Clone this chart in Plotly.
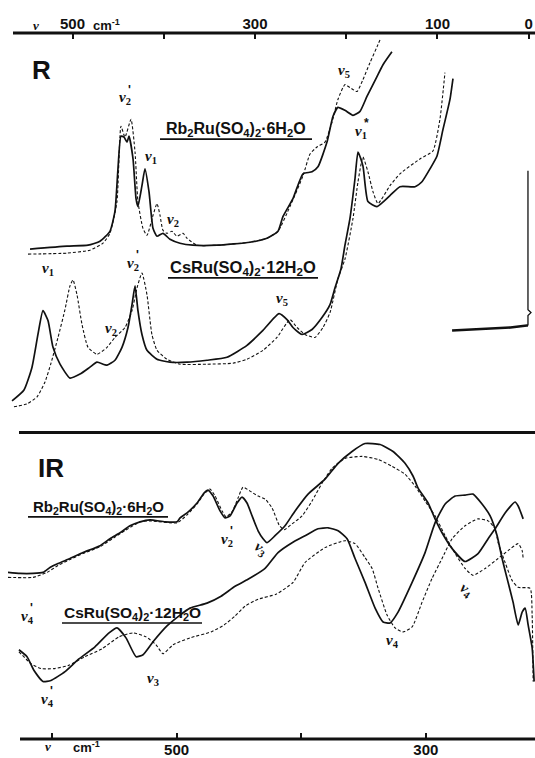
import plotly.graph_objects as go

# ---------------- Raman (R) spectra: wavenumber (cm-1) / relative intensity ----------------
raman_rb_solid_wn = [546.6, 506.1, 483.0, 469.9, 459.0, 453.5, 450.2, 446.9, 443.6, 440.3, 438.1, 433.7,
                     430.4, 428.3, 423.9, 420.6, 416.2, 411.8, 407.4, 400.9, 393.2, 382.2, 368.0, 341.7,
                     305.5, 286.9, 274.8, 269.3, 258.4, 247.4, 237.5, 231.0, 221.1, 214.5, 209.1, 201.4,
                     192.6, 184.9, 177.3, 166.3, 159.7, 149.9]
raman_rb_solid_i = [185, 188, 189, 193, 203, 223, 266, 299, 298, 293, 299, 276,
                    236, 228, 249, 266, 243, 206, 198, 201, 195, 191, 189, 189,
                    192, 196, 203, 218, 236, 261, 263, 268, 293, 319, 328, 325,
                    320, 324, 339, 359, 371, 384]

raman_rb_dash_wn = [548.8, 506.1, 480.9, 466.6, 459.0, 451.3, 446.9, 442.5, 435.9, 431.5, 428.3, 422.8,
                    418.4, 411.8, 407.4, 404.1, 400.9, 396.5, 391.0, 385.5, 378.9, 374.5, 363.6, 341.7,
                    305.5, 286.9, 274.8, 261.7, 247.4, 239.7, 232.1, 223.3, 215.6, 209.1, 201.4, 195.9,
                    188.2, 181.7, 174.0, 166.3, 163.0]
raman_rb_dash_i = [180, 181, 184, 191, 201, 233, 309, 298, 316, 283, 233, 206,
                   199, 219, 231, 219, 204, 201, 203, 198, 201, 196, 189, 189,
                   192, 196, 203, 228, 259, 281, 288, 293, 313, 336, 351, 348,
                   344, 356, 373, 389, 396]

raman_cs_solid_wn = [566.3, 553.2, 544.4, 537.9, 532.4, 526.9, 521.4, 513.7, 502.8, 491.8, 480.9, 473.2,
                     462.2, 453.5, 445.8, 439.2, 434.8, 431.5, 428.3, 423.9, 418.4, 407.4, 393.2, 374.5,
                     352.6, 330.7, 308.8, 291.3, 273.7, 264.9, 258.4, 248.5, 237.5, 226.6, 217.8, 212.3,
                     205.8, 201.4, 195.9, 190.4, 187.1, 181.7, 176.2, 166.3, 152.1, 141.1, 124.6, 117.0,
                     108.2, 100.5, 93.9, 86.3, 83.0]
raman_cs_solid_i = [32, 43, 66, 99, 123, 113, 86, 69, 55, 59, 66, 71,
                    68, 73, 86, 106, 129, 148, 123, 99, 83, 74, 71, 71,
                    73, 76, 88, 103, 120, 114, 106, 99, 104, 116, 129, 146,
                    165, 189, 216, 256, 283, 269, 233, 228, 239, 248, 248, 253,
                    266, 279, 306, 336, 357]

raman_cs_dash_wn = [564.2, 549.9, 538.9, 530.2, 523.6, 515.9, 508.3, 502.8, 499.5, 495.1, 489.6, 483.0,
                    473.2, 462.2, 453.5, 442.5, 434.8, 429.3, 423.9, 418.4, 413.0, 407.4, 396.5, 382.2,
                    352.6, 324.1, 308.8, 291.3, 275.9, 261.7, 254.0, 245.2, 234.3, 225.5, 217.8, 209.1,
                    201.4, 192.6, 187.1, 181.7, 176.2, 170.7, 165.2, 152.1, 141.1, 119.2, 105.0, 97.3, 91.8]
raman_cs_dash_i = [26, 29, 36, 51, 70, 96, 124, 148, 154, 139, 109, 86,
                   79, 86, 96, 106, 123, 146, 161, 139, 99, 83, 74, 69,
                   69, 70, 74, 83, 96, 114, 106, 99, 96, 106, 121, 155,
                   175, 216, 253, 278, 263, 243, 231, 249, 261, 276, 284, 316, 363]

rayleigh_base_wn = [84, 60, 40, 20, 2, 0.8]
rayleigh_base_i = [103, 104, 105, 106, 108, 108]
rayleigh_line_wn = [0.8, 0.8, -2.5, 0.8, 0.8]
rayleigh_line_i = [108, 118, 121, 124, 264]

# ---------------- IR spectra: wavenumber (cm-1) / relative transmission ----------------
ir_rb_solid_wn = [635.3, 625.6, 615.2, 607.2, 601.6, 595.1, 585.5, 575.1, 561.4, 553.4, 545.4, 537.4,
                  529.3, 521.3, 509.3, 499.6, 497.2, 491.6, 483.6, 478.0, 474.8, 470.7, 465.1, 461.1,
                  457.1, 451.5, 447.5, 443.5, 439.4, 434.6, 430.6, 427.4, 421.0, 413.0, 404.9, 394.5,
                  380.9, 370.4, 359.2, 348.8, 336.7, 326.3, 316.7, 310.2, 306.2, 298.2, 292.6, 287.0,
                  278.9, 268.5, 258.1, 250.0, 244.4, 236.4, 228.4, 225.9, 221.9]
ir_rb_solid_t = [168, 167, 167, 168, 173, 177, 182, 188, 195, 202, 208, 215,
                 219, 221, 219, 219, 223, 228, 238, 248, 251, 245, 230, 223,
                 225, 238, 244, 238, 225, 210, 202, 198, 205, 215, 230, 247,
                 262, 278, 290, 298, 297, 290, 278, 265, 253, 238, 222, 208,
                 192, 179, 187, 202, 212, 228, 239, 235, 222]

ir_rb_dash_wn = [635.3, 615.2, 604.0, 595.1, 585.5, 575.1, 561.4, 545.4, 529.3, 521.3, 499.6, 491.6,
                 483.6, 478.0, 473.2, 469.1, 463.5, 460.3, 455.5, 450.7, 446.7, 441.1, 434.6, 429.0,
                 423.4, 417.8, 413.8, 407.3, 399.3, 391.3, 383.3, 375.2, 364.8, 351.2, 338.3, 327.1,
                 316.6, 308.6, 300.6, 292.6, 284.5, 276.5, 268.5, 262.1, 252.4, 242.0, 234.0, 225.9,
                 222.7, 221.9]
ir_rb_dash_t = [163, 163, 168, 175, 181, 187, 194, 207, 219, 220, 218, 226,
                237, 247, 252, 245, 230, 224, 229, 243, 254, 250, 245, 242,
                233, 216, 211, 217, 225, 240, 258, 273, 283, 285, 282, 275,
                267, 255, 240, 225, 205, 187, 172, 165, 172, 182, 190, 197,
                190, 182]

ir_cs_solid_wn = [626.5, 620.0, 614.4, 607.2, 600.8, 589.5, 579.1, 565.5, 554.2, 547.8, 540.6, 532.5,
                  526.9, 518.9, 507.7, 497.2, 489.2, 475.6, 464.3, 453.1, 442.7, 429.0, 418.6, 407.3,
                  396.9, 386.5, 378.4, 370.4, 363.2, 356.8, 348.8, 340.7, 334.3, 328.7, 322.3, 311.0,
                  300.6, 292.6, 284.5, 276.5, 268.5, 262.1, 254.9, 248.4, 242.8, 238.8, 234.8, 230.0,
                  225.9, 222.7, 220.3, 217.9, 214.7, 213.1]
ir_cs_solid_t = [90, 83, 69, 58, 59, 68, 80, 93, 107, 112, 102, 83,
                 85, 98, 114, 125, 132, 137, 144, 154, 161, 172, 188, 198,
                 205, 212, 213, 210, 202, 182, 158, 132, 118, 117, 128, 158,
                 188, 218, 237, 245, 246, 247, 237, 225, 205, 182, 162, 138,
                 115, 128, 132, 115, 92, 58]

ir_cs_dash_wn = [626.5, 616.8, 608.8, 598.4, 587.1, 573.5, 559.8, 546.2, 535.0, 524.5, 516.5, 510.9,
                 502.8, 489.2, 472.4, 461.9, 453.1, 445.0, 434.6, 420.2, 406.5, 396.9, 380.9, 364.8,
                 356.8, 348.8, 343.1, 338.3, 331.1, 324.7, 318.3, 311.0, 303.0, 295.0, 287.0, 278.9,
                 268.5, 258.1, 250.0, 244.4, 242.0, 236.4, 230.8, 225.9, 216.3, 214.7, 213.9]
ir_cs_dash_t = [88, 76, 71, 71, 74, 83, 91, 103, 107, 103, 95, 86,
                95, 102, 108, 115, 124, 134, 141, 146, 158, 178, 193, 200,
                197, 183, 172, 152, 125, 112, 108, 113, 138, 162, 182, 202,
                215, 222, 220, 212, 198, 178, 160, 153, 152, 125, 58]

raman_tick_vals = [500, 300, 100, 0]
raman_tick_text = ["500", "300", "100", "0"]
ir_tick_vals = [500, 300]
ir_tick_text = ["500", "300"]

# ---------------- layout geometry (page pixels) ----------------
W, H = 535, 758
TOP, BOT = 33, 745          # rows of top and bottom axis lines
SEP = 436                    # separator between panels
PLOT_H = BOT - TOP
split = (BOT - SEP) / PLOT_H


def px(x):
    return x / W


def py(y):
    return (BOT - y) / PLOT_H


fig = go.Figure()

solid = dict(color="#111111", width=1.7, shape="spline", smoothing=0.5)
dashed = dict(color="#111111", width=1.1, dash="3px,2px", shape="spline", smoothing=0.5)

fig.add_trace(go.Scatter(x=raman_rb_solid_wn, y=raman_rb_solid_i, mode="lines", line=solid, xaxis="x", yaxis="y"))
fig.add_trace(go.Scatter(x=raman_rb_dash_wn, y=raman_rb_dash_i, mode="lines", line=dashed, xaxis="x", yaxis="y"))
fig.add_trace(go.Scatter(x=raman_cs_solid_wn, y=raman_cs_solid_i, mode="lines", line=solid, xaxis="x", yaxis="y"))
fig.add_trace(go.Scatter(x=raman_cs_dash_wn, y=raman_cs_dash_i, mode="lines", line=dashed, xaxis="x", yaxis="y"))
fig.add_trace(go.Scatter(x=rayleigh_base_wn, y=rayleigh_base_i, mode="lines",
                         line=dict(color="#111111", width=2.5), xaxis="x", yaxis="y"))
fig.add_trace(go.Scatter(x=rayleigh_line_wn, y=rayleigh_line_i, mode="lines",
                         line=dict(color="#111111", width=1.3), xaxis="x", yaxis="y"))

fig.add_trace(go.Scatter(x=ir_rb_solid_wn, y=ir_rb_solid_t, mode="lines", line=solid, xaxis="x2", yaxis="y2"))
fig.add_trace(go.Scatter(x=ir_rb_dash_wn, y=ir_rb_dash_t, mode="lines", line=dashed, xaxis="x2", yaxis="y2"))
fig.add_trace(go.Scatter(x=ir_cs_solid_wn, y=ir_cs_solid_t, mode="lines", line=solid, xaxis="x2", yaxis="y2"))
fig.add_trace(go.Scatter(x=ir_cs_dash_wn, y=ir_cs_dash_t, mode="lines", line=dashed, xaxis="x2", yaxis="y2"))

tickfont = dict(family="Liberation Sans", size=15, color="#111111")

annotations = []


def text(xp, yp, s, size=15, family="Liberation Sans", angle=0):
    annotations.append(dict(x=px(xp), y=py(yp), xref="paper", yref="paper", text=s, showarrow=False,
                            xanchor="center", yanchor="middle", textangle=angle,
                            font=dict(family=family, size=size, color="#111111")))


def nu(xp, yp, sub, prime=False, star=False, angle=0):
    text(xp, yp, "<b><i>ν</i></b><sub><b>%s</b></sub>" % sub, size=15, family="Liberation Serif", angle=angle)
    if prime:
        text(xp + 4, yp - 9, "<b>'</b>", size=12, family="Liberation Sans")
    if star:
        text(xp + 5, yp - 9, "<b>*</b>", size=12, family="Liberation Sans")


# panel letters
text(41, 70, "<b>R</b>", size=26)
text(51, 472, "<b>IR</b>", size=26)

# compound labels
text(236, 130, "<b>Rb<sub>2</sub>Ru(SO<sub>4</sub>)<sub>2</sub>·6H<sub>2</sub>O</b>", size=16)
text(243, 270, "<b>CsRu(SO<sub>4</sub>)<sub>2</sub>·12H<sub>2</sub>O</b>", size=16.5)
text(98, 512, "<b>Rb<sub>2</sub>Ru(SO<sub>4</sub>)<sub>2</sub>·6H<sub>2</sub>O</b>", size=15)
text(132, 618, "<b>CsRu(SO<sub>4</sub>)<sub>2</sub>·12H<sub>2</sub>O</b>", size=15.5)

# axis unit labels
text(36, 25, "<b><i>ν</i></b>", size=13, family="Liberation Serif")
text(106, 25, "<b>cm<sup>-1</sup></b>", size=13)
text(48, 753, "<b><i>ν</i></b>", size=13, family="Liberation Serif")
text(86, 753, "<b>cm<sup>-1</sup></b>", size=13)

# band assignments - Raman
nu(125, 99, "2", prime=True)
nu(151, 158, "1")
nu(173, 222, "2")
nu(344, 71, "5")
nu(361, 133, "1", star=True)
nu(48, 271, "1")
nu(133, 266, "2", prime=True)
nu(111, 332, "2")
nu(282, 301, "5")
# band assignments - IR
nu(27, 622, "4", prime=True)
nu(227, 544, "2", prime=True)
nu(261, 553, "3", angle=35)
nu(466, 595, "4", angle=35)
nu(392, 646, "4")
nu(47, 706, "4", prime=True)
nu(153, 684, "3")

shapes = []


def hline(x0, x1, y, w):
    shapes.append(dict(type="line", xref="paper", yref="paper", x0=px(x0), x1=px(x1), y0=py(y), y1=py(y),
                       line=dict(color="#111111", width=w)))


hline(13, 535, TOP, 3)      # top (Raman) axis line
hline(19, 535, SEP, 3)      # separator
hline(20, 535, BOT, 3)      # bottom (IR) axis line
# underlines of compound names
hline(160, 312, 140, 1.6)
hline(168, 318, 280, 1.6)
hline(28, 168, 521, 1.6)
hline(62, 202, 628, 1.6)

tick_common = dict(ticks="inside", ticklen=6, tickwidth=2, tickcolor="#111111",
                   showline=False, showgrid=False, zeroline=False, tickfont=tickfont, fixedrange=True)

fig.update_layout(
    width=W, height=H,
    margin=dict(l=0, r=0, t=TOP, b=H - BOT),
    paper_bgcolor="white", plot_bgcolor="white",
    showlegend=False,
    xaxis=dict(range=[579.5, -6.9], side="top", anchor="y", domain=[0, 1],
               tickvals=raman_tick_vals, ticktext=["<b>%s</b>" % t for t in raman_tick_text],
               minor=dict(tickvals=[400, 200], ticks="inside", ticklen=6, tickwidth=2, tickcolor="#111111",
                          showgrid=False),
               **tick_common),
    yaxis=dict(range=[0, SEP - TOP], domain=[split, 1], visible=False, fixedrange=True),
    xaxis2=dict(range=[641.7, 212.4], side="bottom", anchor="y2", domain=[0, 1],
                tickvals=ir_tick_vals, ticktext=["<b>%s</b>" % t for t in ir_tick_text],
                minor=dict(tickvals=[600, 400], ticks="inside", ticklen=6, tickwidth=2, tickcolor="#111111",
                           showgrid=False),
                **tick_common),
    yaxis2=dict(range=[0, BOT - SEP], domain=[0, split], visible=False, fixedrange=True),
    annotations=annotations,
    shapes=shapes,
)

# remove the default 8px page margin so the 535x758 figure fills the window exactly
page_fix = "document.body.style.margin='0';document.body.style.overflow='hidden';"
fig.write_html("out.html", config={"displayModeBar": False}, post_script=page_fix)
